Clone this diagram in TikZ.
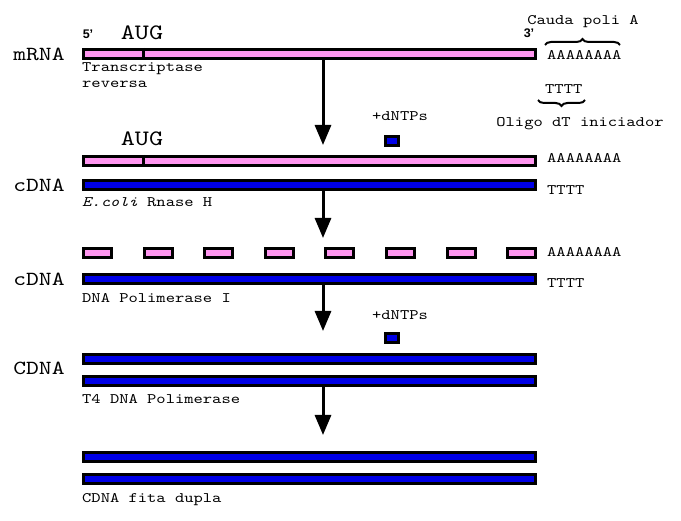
\documentclass[tikz,border=0pt]{standalone}
\usepackage{fontspec}
\setsansfont{Liberation Sans}
\newfontfamily\cour{lmmono10-regular.otf}[FakeStretch=1.22,ItalicFont=lmmono10-italic.otf]
\usetikzlibrary{arrows.meta,decorations.pathreplacing}
\definecolor{rnapink}{RGB}{255,150,240}
\definecolor{dnablue}{RGB}{0,0,230}
\begin{document}
\begin{tikzpicture}[x=1pt,y=-1pt,
  bar/.style={draw=black,line width=3pt,inner sep=0pt,minimum height=9pt,minimum width=452pt},
  pinkbar/.style={bar,fill=rnapink},
  bluebar/.style={bar,fill=dnablue},
  seg/.style={pinkbar,minimum width=28pt},
  dntp/.style={bluebar,minimum width=13pt},
  big/.style={font=\cour\fontsize{20}{20}\selectfont,inner sep=0pt,anchor=base},
  aug/.style={font=\cour\fontsize{22}{22}\selectfont,inner sep=0pt,anchor=base},
  small/.style={font=\cour\fontsize{14.5}{14.5}\selectfont,inner sep=0pt,anchor=base west},
  smallc/.style={small,anchor=base},
  prime/.style={font=\fontsize{12.5}{12.5}\selectfont\sffamily\bfseries,inner sep=0pt,anchor=base},
  flow/.style={line width=3pt,-{Triangle[width=16pt,length=20pt]}},
  brc/.style={decorate,decoration={brace,amplitude=6pt},line width=2pt}]
\useasboundingbox (0,0) rectangle (681,521);

% step 1: mRNA
\node[pinkbar] (mrna) at (309.5,54) {};
\draw[line width=3pt] (mrna.north -| 143,0) -- (mrna.south -| 143,0);
\node[prime] (p5) at (88,39) {5'};
\node[prime] (p3) at (529,38) {3'};
\node[aug] (aug1) at (142,40) {AUG};
\node[big] (lmrna) at (39,61) {mRNA};
\node[smallc] (cauda) at (583,25) {Cauda poli A};
\node[small] (polya1) at (547,60) {AAAAAAAA};
\draw[brc] (545,45) -- (620,45);
\node[small] (rt1) at (82,72) {Transcriptase};
\node[small] (rt2) at (82,88) {reversa};
\node[small] (tttt1) at (545,94) {TTTT};
\draw[brc] (585,100) -- (538,100);
\node[smallc] (oligo) at (580,127) {Oligo dT iniciador};
\node[smallc] (dntp1l) at (400,121) {+dNTPs};
\node[dntp] (dntp1) at (392,141) {};

% step 2
\node[aug] (aug2) at (142,146) {AUG};
\node[pinkbar] (rna2) at (309.5,161) {};
\draw[line width=3pt] (rna2.north -| 143,0) -- (rna2.south -| 143,0);
\node[small] (polya2) at (547,163) {AAAAAAAA};
\node[bluebar] (cdna1) at (309.5,185) {};
\node[big] (lcdna1) at (39,192) {cDNA};
\node[small] (tttt2) at (547,195) {TTTT};
\node[small] (rnaseh) at (82,207) {\textit{E.coli} Rnase H};

% step 3
\foreach \i/\x in {1/97.5,2/158.1,3/218.7,4/279.3,5/339.9,6/400.5,7/461.1,8/521.7}
  \node[seg] (s\i) at (\x,253) {};
\node[small] (polya3) at (547,257) {AAAAAAAA};
\node[bluebar] (cdna2) at (309.5,279) {};
\node[big] (lcdna2) at (39,286) {cDNA};
\node[small] (tttt3) at (547,288) {TTTT};
\node[small] (pol1) at (82,303) {DNA Polimerase I};
\node[smallc] (dntp2l) at (400,320) {+dNTPs};
\node[dntp] (dntp2) at (392,338.5) {};

% step 4
\node[bluebar] (ds1) at (309.5,359) {};
\node[bluebar] (ds2) at (309.5,381) {};
\node[big] (lcdna3) at (39,375) {CDNA};
\node[small] (t4) at (82,404) {T4 DNA Polimerase};

% step 5
\node[bluebar] (ds3) at (309.5,457) {};
\node[bluebar] (ds4) at (309.5,479) {};
\node[small] (fita) at (82,503) {CDNA fita dupla};

% arrows
\coordinate (t1) at (323,145);
\coordinate (t2) at (323,238);
\coordinate (t3) at (323,331);
\coordinate (t4c) at (323,435);
\draw[flow] (mrna.south -| t1) -- (t1);
\draw[flow] (cdna1.south -| t2) -- (t2);
\draw[flow] (cdna2.south -| t3) -- (t3);
\draw[flow] (ds2.south -| t4c) -- (t4c);
\end{tikzpicture}
\end{document}
